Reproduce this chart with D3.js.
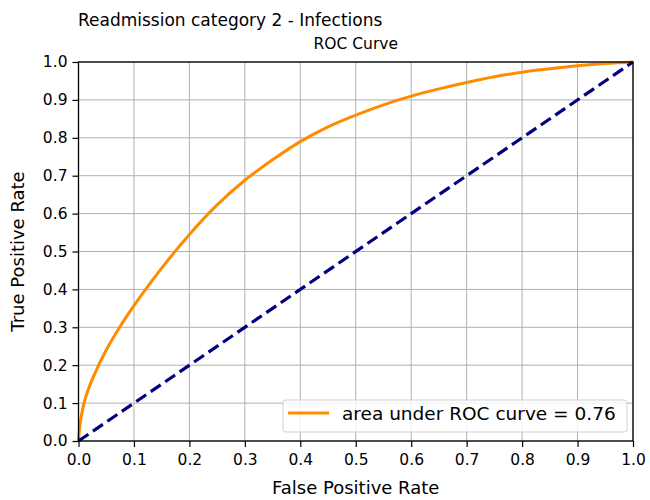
<!DOCTYPE html>
<html><head><meta charset="utf-8">
<script src="https://cdn.jsdelivr.net/npm/d3@7"></script>
<style>body{margin:0;background:#fff;} text{font-family:"DejaVu Sans",sans-serif;fill:#000;}</style>
</head><body>
<svg id="chart" width="650" height="500"></svg>
<script>
// ROC curve points
const fpr = [0, 0.002, 0.005, 0.01, 0.02, 0.03, 0.05, 0.075, 0.1, 0.125, 0.15, 0.2, 0.25, 0.3, 0.35, 0.4, 0.45, 0.5, 0.55, 0.6, 0.65, 0.7, 0.75, 0.8, 0.85, 0.9, 0.95, 1.0];
const tpr = [0, 0.035, 0.065, 0.1, 0.145, 0.18, 0.24, 0.302, 0.357, 0.408, 0.456, 0.545, 0.623, 0.688, 0.742, 0.79, 0.829, 0.86, 0.887, 0.91, 0.929, 0.946, 0.961, 0.973, 0.982, 0.99, 0.996, 1.0];
const chanceX = [0, 1];
const chanceY = [0, 1];
const ticks = [0, 0.1, 0.2, 0.3, 0.4, 0.5, 0.6, 0.7, 0.8, 0.9, 1.0];
const supTitle = "Readmission category 2 - Infections";
const title = "ROC Curve";
const xLabel = "False Positive Rate";
const yLabel = "True Positive Rate";
const legendLabel = "area under ROC curve = 0.76";

const svg = d3.select("#chart");
const L = 78.5, R = 633, T = 62, B = 441;
const x = d3.scaleLinear().domain([0, 1]).range([L, R]);
const y = d3.scaleLinear().domain([0, 1]).range([B, T]);

// grid
const g = svg.append("g");
g.selectAll(".gx").data(ticks).enter().append("line")
  .attr("x1", d => x(d)).attr("x2", d => x(d)).attr("y1", T).attr("y2", B)
  .attr("stroke", "#b0b0b0").attr("stroke-width", 1);
g.selectAll(".gy").data(ticks).enter().append("line")
  .attr("y1", d => y(d)).attr("y2", d => y(d)).attr("x1", L).attr("x2", R)
  .attr("stroke", "#b0b0b0").attr("stroke-width", 1);

// curves
const line = d3.line().x(d => x(d[0])).y(d => y(d[1])).curve(d3.curveMonotoneX);
svg.append("path").datum(d3.zip(fpr, tpr)).attr("d", line)
  .attr("fill", "none").attr("stroke", "#ff8c00").attr("stroke-width", 3);
svg.append("path").datum(d3.zip(chanceX, chanceY)).attr("d", d3.line().x(d => x(d[0])).y(d => y(d[1])))
  .attr("fill", "none").attr("stroke", "#000080").attr("stroke-width", 3.2).attr("stroke-dasharray", "12,5.5");

// axes
const xAxis = d3.axisBottom(x).tickValues(ticks).tickFormat(d3.format(".1f")).tickSize(6).tickSizeOuter(0).tickPadding(5);
const yAxis = d3.axisLeft(y).tickValues(ticks).tickFormat(d3.format(".1f")).tickSize(6).tickSizeOuter(0).tickPadding(5);
const gx = svg.append("g").attr("transform", `translate(0,${B})`).call(xAxis);
const gy = svg.append("g").attr("transform", `translate(${L},0)`).call(yAxis);
[gx, gy].forEach(a => {
  a.select(".domain").remove();
  a.selectAll(".tick line").attr("stroke", "#000").attr("stroke-width", 1.2);
  a.selectAll(".tick text").style("font-family", "DejaVu Sans").style("font-size", "15.5px").attr("fill", "#000");
});
gx.selectAll(".tick text").attr("dy", "0.85em");

// frame
svg.append("rect").attr("x", L).attr("y", T).attr("width", R - L).attr("height", B - T)
  .attr("fill", "none").attr("stroke", "#000").attr("stroke-width", 1.3);

// legend
const lg = svg.append("g");
lg.append("rect").attr("x", 283).attr("y", 400).attr("width", 344).attr("height", 32).attr("rx", 3)
  .attr("fill", "#fff").attr("fill-opacity", 0.8).attr("stroke", "#d0d0d0").attr("stroke-width", 1);
lg.append("line").attr("x1", 288).attr("x2", 329).attr("y1", 413).attr("y2", 413)
  .attr("stroke", "#ff8c00").attr("stroke-width", 3);
lg.append("text").attr("x", 342).attr("y", 419.5).style("font-size", "18.5px").text(legendLabel);

// titles and labels
svg.append("text").attr("x", 78).attr("y", 26).style("font-size", "17px").text(supTitle);
svg.append("text").attr("x", (L + R) / 2).attr("y", 49).attr("text-anchor", "middle").style("font-size", "15.5px").text(title);
svg.append("text").attr("x", (L + R) / 2).attr("y", 494).attr("text-anchor", "middle").style("font-size", "18px").text(xLabel);
svg.append("text").attr("transform", `translate(24,${(T + B) / 2}) rotate(-90)`).attr("text-anchor", "middle").style("font-size", "18px").text(yLabel);
</script>
</body></html>
